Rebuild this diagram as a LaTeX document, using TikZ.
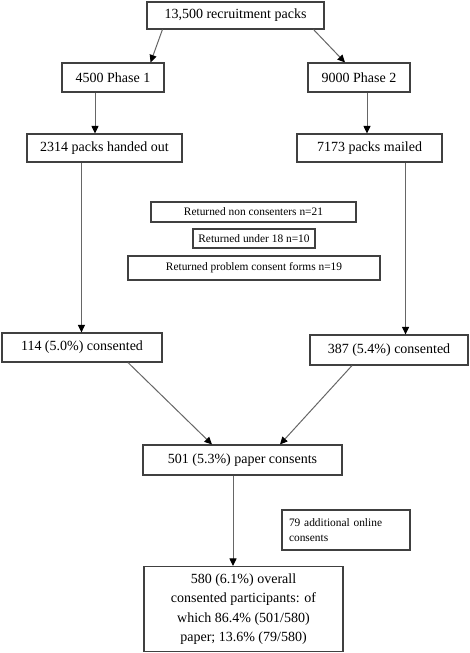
\documentclass[tikz,border=0pt]{standalone}
\usepackage{fontspec}
\setmainfont{Liberation Serif}
\usetikzlibrary{arrows.meta,calc}
\tikzset{
  box/.style={draw=black!75, line width=1.1pt, rectangle, inner sep=0pt, align=center, font=\fontsize{14}{19.5}\selectfont},
  smallbox/.style={box, font=\fontsize{11.4}{14.5}\selectfont},
  arr/.style={draw=black!60, line width=1pt, -{Triangle[length=7.5pt,width=7pt,fill=black,color=black]}}
}
\begin{document}
\begin{tikzpicture}[x=1pt,y=-1pt]
\useasboundingbox (0,0) rectangle (469,653);
\node[box, minimum width=177pt, minimum height=27pt] (top) at (235.5,15.5) {13,500 recruitment packs};
\node[box, minimum width=102pt, minimum height=29pt] (p1) at (113,77.5) {4500 Phase 1};
\node[box, minimum width=102pt, minimum height=29pt] (p2) at (359,77.5) {9000 Phase 2};
\node[box, minimum width=155pt, minimum height=28pt] (h1) at (104.5,148) {2314 packs handed out};
\node[box, minimum width=145pt, minimum height=28pt] (m2) at (369.5,148) {7173 packs mailed};
\node[smallbox, minimum width=205pt, minimum height=20pt] (nc) at (253.5,212) {Returned non consenters n=21};
\node[smallbox, minimum width=122pt, minimum height=19pt] (u18) at (254,238.5) {Returned under 18 n=10};
\node[smallbox, minimum width=252pt, minimum height=24pt] (pc) at (254,268) {Returned problem consent forms n=19};
\node[box, minimum width=160pt, minimum height=29pt] (c1) at (82,347.5) {114 (5.0\%) consented};
\node[box, minimum width=158pt, minimum height=30pt] (c2) at (389,350) {387 (5.4\%) consented};
\node[box, minimum width=199pt, minimum height=30pt] (pap) at (242.5,460) {501 (5.3\%) paper consents};
\node[smallbox, minimum width=128pt, minimum height=40pt, align=left, text width=114pt] (add) at (346,530) {79 additional online\\consents};
\node[box, minimum width=199pt, minimum height=85pt] (fin) at (243.5,609) {580 (6.1\%) overall\\consented participants: of\\which 86.4\% (501/580)\\paper; 13.6\% (79/580)};
\draw[arr] ([xshift=16pt]top.south west) -- ([xshift=-14pt]p1.north east);
\draw[arr] ([xshift=-11pt]top.south east) -- ([xshift=-14pt]p2.north);
\draw[arr] ([xshift=-18pt]p1.south) coordinate (a1) -- (a1 |- h1.north);
\draw[arr] ([xshift=8pt]p2.south) coordinate (a2) -- (a2 |- m2.north);
\draw[arr] ([xshift=55pt]h1.south west) coordinate (a3) -- (a3 |- c1.north);
\draw[arr] ([xshift=-37pt]m2.south east) coordinate (a4) -- (a4 |- c2.north);
\draw[arr] ([xshift=46pt]c1.south) -- ([xshift=-30.5pt]pap.north);
\draw[arr] ([xshift=-37pt]c2.south) -- ([xshift=37.5pt]pap.north);
\draw[arr] ([xshift=-9.5pt]pap.south) coordinate (a5) -- (a5 |- fin.north);
\end{tikzpicture}
\end{document}
